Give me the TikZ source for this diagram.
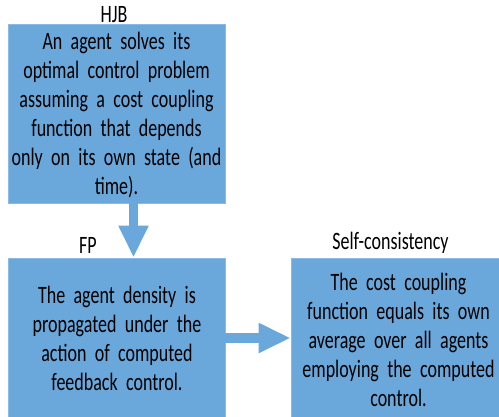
\documentclass[tikz,border=0pt]{standalone}
\usepackage{fontspec}
\setmainfont[FakeStretch=0.72]{Carlito}
\usetikzlibrary{arrows.meta}
\definecolor{boxblue}{RGB}{106,167,219}
\definecolor{edgeblue}{RGB}{140,186,228}
\begin{document}
\begin{tikzpicture}[x=1pt,y=-1pt,
  box/.style={draw=edgeblue, line width=0.8pt, fill=boxblue, minimum width=217pt, minimum height=179pt, inner sep=0pt},
  body/.style={text width=235pt, align=center, inner sep=0pt, anchor=base, font=\fontsize{25}{29}\selectfont},
  lbl/.style={anchor=base, inner sep=0pt, font=\fontsize{25}{29}\selectfont},
  blockarrow/.style={draw=boxblue, line width=9.5pt, -{Triangle[width=28pt,length=32pt]}}]
\useasboundingbox (0,0) rectangle (499,416);
\clip (0,0) rectangle (499,416);
\fill[white] (0,0) rectangle (499,416);
% boxes
\node[box] (hjb) at (116.5,113.5) {};
\node[box] (fp) at (116.5,347.5) {};
\node[box] (sc) at (399.5,347.5) {};
% titles
\node[lbl] (hjbl) at (114,22) {HJB};
\node[lbl] (fpl) at (88,253) {FP};
\node[lbl] (scl) at (390.5,249) {Self-consistency};
% texts
\node[body] (hjbt) at (116.5,49) {An agent solves its\\optimal control problem\\assuming a cost coupling\\function that depends\\only on its own state (and\\time).};
\node[body] (fpt) at (117,303) {The agent density is\\propagated under the\\action of computed\\feedback control.};
\node[body] (sct) at (398.5,290) {The cost coupling\\function equals its own\\average over all agents\\employing the computed\\control.};
% arrows
\coordinate (ax) at (133.5,0);
\coordinate (ay) at (0,338);
\draw[blockarrow] (hjb.south -| ax) -- (fp.north -| ax);
\draw[blockarrow] (fp.east |- ay) -- (sc.west |- ay);
\end{tikzpicture}
\end{document}
